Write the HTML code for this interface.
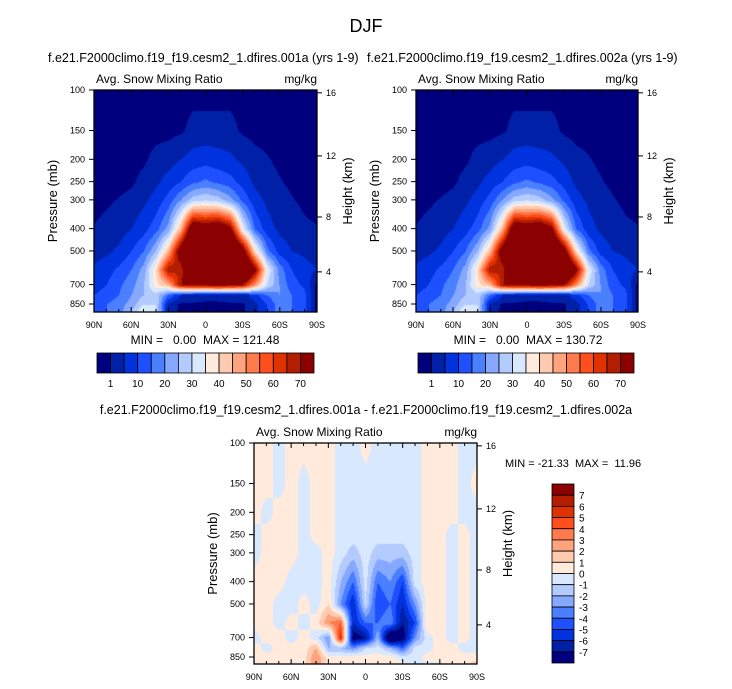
<!DOCTYPE html>
<html><head><meta charset="utf-8"><style>
body{margin:0;background:#fff;width:732px;height:689px;position:relative;overflow:hidden;font-family:"Liberation Sans",Arial,sans-serif}
canvas{position:absolute}
svg{position:absolute;left:0;top:0}
text{white-space:pre}
</style></head><body>
<canvas id="cA" style="left:94px;top:90px" width="223" height="222"></canvas>
<canvas id="cB" style="left:416px;top:90px" width="222" height="222"></canvas>
<canvas id="cD" style="left:254px;top:443px" width="223" height="221"></canvas>
<svg id="ov" width="732" height="689"></svg>
<script>
const lats=[90,80,70,60,50,40,30,20,10,0,-10,-20,-30,-40,-50,-60,-70,-80,-90];
const levels=[100,150,200,250,300,400,500,600,700,775,850,925];
const fieldA=[
[0,0,0,0,0,0,0,0,0,0,0,0,0,0,0,0,0,0,0],
[0,0,0,0,0,0,0,0.5,2,2,2,2,0.5,0,0,0,0,0,0],
[0,0,0,0,0.5,2,3,5,7,8,7,6,4,2,1.2,0.5,0,0,0],
[0,0,0,0.5,2,4,7,10,14,16,14,12,8,4,2,1.2,0.5,0,0],
[0,0.5,1.2,2,4,7,12,20,28,30,28,22,14,7,4,2,1.2,0.5,0],
[1.2,2,3,5,8,13,22,45,85,80,85,75,35,15,7,4,2.5,1.5,1.2],
[3,4,6,10,15,25,45,80,100,100,100,100,80,40,17,8,5,4,3],
[6,8,11,15,22,40,70,65,100,100,100,100,100,75,35,18,10,7,5],
[8,10,14,18,25,38,45,70,72,72,75,72,70,50,30,20,12,9,0],
[10,12,15,20,25,28,15,5,3,2,2,3,3,8,15,20,15,12,0],
[12,15,18,22,30,30,3,0.5,0.5,0.5,0.5,0.5,0.5,3,10,18,15,12,0],
[12,15,18,25,38,30,2,0.5,0,0,0,0,0.5,3,10,18,15,12,0]];
const fieldB=fieldA;
const fieldD=[
[.5,.5,-.5,.5,.5,.5,.5,-.5,-.5,.5,-.5,-.5,-.5,-.5,.5,.5,.5,-.5,-.5],
[.5,.5,-.5,.5,-.5,.5,.5,-.5,-.5,-.5,-.5,-.5,-.5,-.5,.5,.5,.5,-.5,.5],
[.5,-.5,.5,.5,-.5,.5,.5,-.5,-.5,-.5,-.5,-.5,-.5,-.5,.5,.5,.5,-.5,-.5],
[-.5,.5,.5,.5,-.5,.5,.5,-.5,-.5,-.5,-.5,-.5,-.5,-.5,.5,.5,-.5,.5,-.5],
[-.5,.5,.5,.5,-.5,-.5,.5,-.5,-1.5,-.5,-1.5,-1.5,-1.5,-.5,.5,.5,-.5,.5,-.5],
[.5,.5,.5,-.5,-.5,-.5,.5,-2,-4,-.5,-4,-3,-5,-.5,.5,.5,-.5,.5,-.5],
[.5,.5,-.5,-.5,.5,-.5,1,-3,-6,-1,-5,-4,-6,-3,.5,.5,-.5,.5,-.5],
[.5,.5,-.5,.5,-.5,.5,3,4,-6,-4,-4,-3,-7,-5,1,.5,-.5,.5,-.5],
[-.5,.5,.5,-.5,.5,-.5,-3,6,-8,-7,-2,-10,-8,-3,-.5,.5,-.5,.5,-.5],
[.5,-.5,.5,.5,.5,2,-2,-2,-3,-1,-.5,-2,-4,-.5,-.5,.5,.5,-.5,-.5],
[.5,.5,.5,.5,.5,3,.5,.5,.5,.5,.5,.5,-.5,-.5,.5,.5,.5,.5,.5],
[-.5,.5,.5,-.5,.5,3,.5,.5,.5,.5,.5,.5,.5,-.5,-.5,-.5,.5,.5,2]];
const absLevels=[1,5,10,15,20,25,30,35,40,45,50,55,60,65,70];
const absLabels=["1","10","20","30","40","50","60","70"];
const diffLevels=[-7,-6,-5,-4,-3,-2,-1,0,1,2,3,4,5,6,7];
const pTicks=[100,150,200,250,300,400,500,700,850];
const kmTicks=[16,12,8,4];
const latTicks=[90,60,30,0,-30,-60,-90];
const latLabels=["90N","60N","30N","0","30S","60S","90S"];
const cols=['#00007f','#0020a8','#0033dd','#1e50ff','#4a80ff','#86a8ff','#b4cbff','#d8e8ff','#ffeadb','#ffcbb0','#ffa37f','#ff7a4d','#ff4f1f','#e03200','#b41e00','#8b0000'];

function rgb(h){return [parseInt(h.substr(1,2),16),parseInt(h.substr(3,2),16),parseInt(h.substr(5,2),16)];}
const crgb=cols.map(rgb);
function val(f,latf,lp){
  const lv=levels.map(Math.log);let r=0,t=0;
  if(lp<=lv[0]){r=0;t=0;}else if(lp>=lv[lv.length-1]){r=lv.length-2;t=1;}
  else{while(lv[r+1]<lp)r++;t=(lp-lv[r])/(lv[r+1]-lv[r]);}
  const i=Math.min(Math.floor(latf),17),s=latf-i;
  const a=f[r][i]*(1-s)+f[r][i+1]*s,b=f[r+1][i]*(1-s)+f[r+1][i+1]*s;
  return a*(1-t)+b*t;
}
function paint(id,f,lev){
  const c=document.getElementById(id),g=c.getContext('2d'),W=c.width,H=c.height;
  const im=g.createImageData(W,H);
  for(let y=0;y<H;y++){const lp=Math.log(100)+y/100;
    for(let x=0;x<W;x++){const v=val(f,x/(W-1)*18,lp);let k=0;while(k<lev.length&&v>=lev[k])k++;
      const q=(y*W+x)*4,cc=crgb[k];im.data[q]=cc[0];im.data[q+1]=cc[1];im.data[q+2]=cc[2];im.data[q+3]=255;}}
  g.putImageData(im,0,0);
}
paint('cA',fieldA,absLevels);paint('cB',fieldB,absLevels);paint('cD',fieldD,diffLevels);

const ov=document.getElementById('ov'),NS='http://www.w3.org/2000/svg';
function el(t,a,txt){const e=document.createElementNS(NS,t);for(const k in a)e.setAttribute(k,a[k]);if(txt!==undefined)e.textContent=txt;ov.appendChild(e);return e;}
function txt(x,y,s,size,anchor,name,rot){const a={x:x,y:y,'font-size':size,'text-anchor':anchor||'start',fill:'#000'};if(rot)a.transform='rotate(-90 '+x+' '+y+')';const e=el('text',a,s);return e;}
function kmToP(z){z*=1000;return z<=11000?1013.25*Math.pow(1-2.2558e-5*z,5.2559):226.3*Math.exp(-(z-11000)/6341.6);}

function panel(L,T,R,B,pfx){
  const yP=p=>T+100*Math.log(p/100), xL=l=>L+(90-l)/180*(R-L);
  const fr=el('rect',{x:L,y:T,width:R-L,height:B-T,fill:'none',stroke:'#000','stroke-width':1.3});
  
  for(let l=90;l>=-90;l-=10){const maj=l%30===0,len=maj?5:3,x=xL(l);
    el('line',{x1:x,y1:B,x2:x,y2:B-len,stroke:'#000'});el('line',{x1:x,y1:T,x2:x,y2:T+len,stroke:'#000'});}
  latTicks.forEach((l,i)=>txt(xL(l),B+16,latLabels[i],9,'middle',pfx+'-x-tick-label'));
  pTicks.forEach(p=>{const y=yP(p);el('line',{x1:L,y1:y,x2:L-5,y2:y,stroke:'#000'});txt(L-9,y+3,String(p),9,'end',pfx+'-y-tick-label');});
  kmTicks.forEach(k=>{const y=yP(kmToP(k));el('line',{x1:R,y1:y,x2:R+5,y2:y,stroke:'#000'});txt(R+9,y+3,String(k),9,'start',pfx+'-height-tick-label');});
  txt(L-37,(T+B)/2,'Pressure (mb)',13,'middle',pfx+'-y-axis-title',true);
  txt(R+35,(T+B)/2-10,'Height (km)',13,'middle',pfx+'-height-axis-title',true);
  txt(L+2,T-7,'Avg. Snow Mixing Ratio',12,'start',pfx+'-left-string');
  txt(R,T-7,'mg/kg',12,'end',pfx+'-units');
}
panel(94,90,317,312,'case-a');panel(416,90,638,312,'case-b');panel(254,443,477,664,'diff');

txt(366,32,'DJF',18,'middle','main-title');
txt(48,62,'f.e21.F2000climo.f19_f19.cesm2_1.dfires.001a (yrs 1-9)',12.5,'start','case-a-title');
txt(367,62,'f.e21.F2000climo.f19_f19.cesm2_1.dfires.002a (yrs 1-9)',12.5,'start','case-b-title');
txt(366,414,'f.e21.F2000climo.f19_f19.cesm2_1.dfires.001a - f.e21.F2000climo.f19_f19.cesm2_1.dfires.002a',12.5,'middle','diff-title');
txt(205,344,'MIN =   0.00  MAX = 121.48',12,'middle','case-a-minmax');
txt(528,344,'MIN =   0.00  MAX = 130.72',12,'middle','case-b-minmax');
txt(505,467,'MIN = -21.33  MAX =  11.96',11,'start','diff-minmax');

function hbar(x0,x1,y0,y1,pfx){const w=(x1-x0)/16;
  for(let i=0;i<16;i++){const r=el('rect',{x:x0+i*w,y:y0,width:w,height:y1-y0,fill:cols[i],stroke:'#000','stroke-width':0.8});
    }
  absLabels.forEach((s,j)=>txt(x0+(2*j+1)*w,y1+14,s,10,'middle',pfx+'-colorbar-label'));}
hbar(97,314,353,373,'case-a');hbar(418,634,353,373,'case-b');
(function(){const x0=552,x1=574,y0=484,y1=663,h=(y1-y0)/16;
  for(let i=0;i<16;i++){const r=el('rect',{x:x0,y:y0+i*h,width:x1-x0,height:h,fill:cols[15-i],stroke:'#000','stroke-width':0.8});
    }
  for(let j=0;j<15;j++)txt(x1+5,y0+(j+1)*h+4,String(diffLevels[14-j]),10,'start','diff-colorbar-label');})();
</script>
</body></html>
